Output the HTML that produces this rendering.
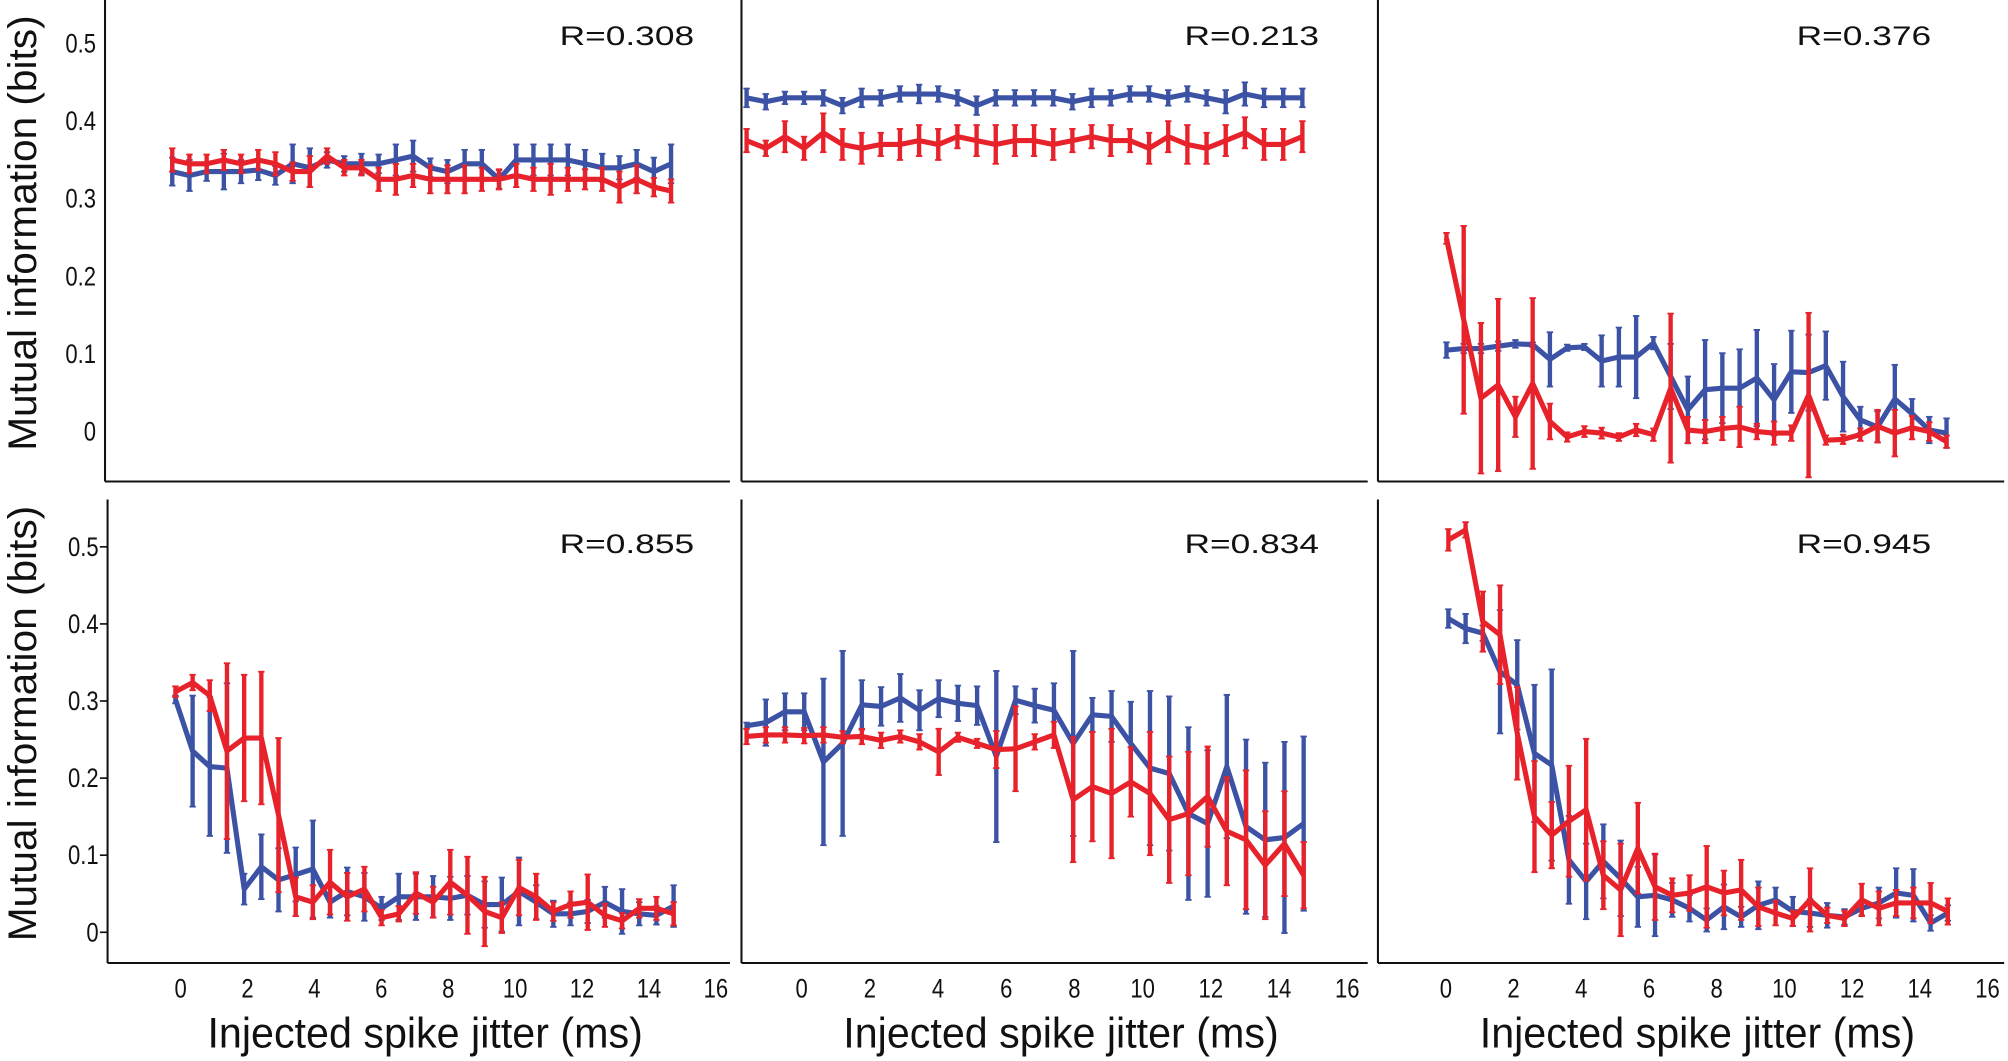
<!DOCTYPE html>
<html><head><meta charset="utf-8"><style>
html,body{margin:0;padding:0;background:#fff;}
svg{display:block;}
text{font-family:"Liberation Sans",sans-serif;fill:#111;}
</style></head>
<body>
<svg id="fig" width="2008" height="1061" viewBox="0 0 1568 828.5" xmlns="http://www.w3.org/2000/svg"></svg>
<script>
// ---- data (mutual information, bits) ----
const jitterIdx = [0,1,2,3,4,5,6,7,8,9,10,11,12,13,14,15,16,17,18,19,20,21,22,23,24,25,26,27,28,29];
const yTicks = [0,0.1,0.2,0.3,0.4,0.5];
const yTickLabels = ["0","0.1","0.2","0.3","0.4","0.5"];
const xTicks = [0,2,4,6,8,10,12,14,16];
const rLabels = ["R=0.308","R=0.213","R=0.376","R=0.855","R=0.834","R=0.945"];

const blueTL = [.335,.33,.335,.335,.335,.337,.33,.345,.34,.35,.345,.345,.345,.35,.355,.34,.335,.345,.345,.325,.35,.35,.35,.35,.345,.34,.34,.345,.335,.345];
const blueTLerr = [.018,.02,.012,.023,.015,.013,.012,.025,.025,.01,.01,.013,.012,.02,.02,.012,.015,.018,.018,.012,.02,.02,.02,.02,.018,.018,.015,.018,.018,.025];
const redTL = [.35,.345,.345,.35,.345,.35,.345,.335,.335,.355,.34,.34,.325,.325,.33,.325,.325,.325,.325,.325,.33,.325,.325,.325,.325,.325,.315,.325,.315,.31];
const redTLerr = [.015,.012,.012,.013,.012,.013,.015,.012,.02,.01,.01,.01,.015,.02,.015,.018,.018,.018,.015,.013,.015,.015,.02,.015,.013,.015,.02,.018,.012,.015];

const blueTM = [.43,.425,.43,.43,.43,.42,.43,.43,.435,.435,.435,.43,.42,.43,.43,.43,.43,.425,.43,.43,.435,.435,.43,.435,.43,.425,.435,.43,.43,.43];
const blueTMerr = [.012,.01,.008,.008,.01,.01,.012,.01,.01,.012,.01,.01,.012,.01,.01,.01,.01,.01,.012,.01,.01,.01,.01,.01,.01,.015,.015,.012,.012,.012];
const redTM = [.375,.365,.38,.365,.385,.37,.365,.37,.37,.375,.37,.38,.375,.37,.375,.375,.37,.375,.38,.375,.375,.365,.38,.37,.365,.375,.385,.37,.37,.38];
const redTMerr = [.015,.01,.02,.015,.025,.02,.02,.015,.02,.02,.02,.015,.02,.025,.02,.02,.02,.015,.015,.02,.015,.02,.02,.025,.02,.02,.02,.02,.02,.02];

const blueTR = [.105,.107,.107,.110,.113,.112,.093,.108,.109,.091,.096,.096,.114,.071,.028,.054,.056,.056,.069,.041,.077,.076,.085,.045,.015,.006,.042,.023,.002,-.002];
const blueTRerr = [.01,.006,.006,.006,.005,.003,.035,.004,.004,.033,.038,.053,.008,.042,.043,.064,.045,.05,.062,.046,.053,.049,.044,.045,.017,.02,.044,.019,.017,.019];
const redTR = [.249,.144,.043,.060,.019,.062,.013,-.007,0,-.002,-.007,.002,-.004,.056,.002,0,.004,.006,0,-.002,-.002,.047,-.011,-.01,-.004,.007,-.002,.005,0,-.013];
const redTRerr = [.007,.121,.097,.111,.026,.11,.023,.006,.007,.007,.005,.008,.008,.096,.017,.015,.015,.026,.01,.015,.01,.106,.006,.006,.008,.021,.03,.015,.012,.008];

const blueBL = [.302,.235,.215,.213,.056,.085,.068,.075,.082,.039,.053,.046,.031,.046,.046,.046,.044,.048,.036,.036,.053,.039,.024,.024,.027,.039,.027,.024,.022,.034];
const blueBLerr = [.005,.072,.09,.11,.02,.042,.041,.035,.063,.02,.031,.031,.015,.03,.03,.027,.028,.025,.03,.035,.044,.022,.017,.015,.015,.02,.029,.015,.012,.027];
const redBL = [.312,.324,.307,.235,.252,.252,.152,.046,.039,.065,.046,.056,.019,.024,.051,.039,.065,.048,.027,.019,.058,.046,.027,.036,.039,.022,.015,.031,.031,.024];
const redBLerr = [.007,.01,.02,.114,.082,.086,.1,.025,.022,.042,.031,.029,.01,.01,.027,.02,.042,.05,.045,.02,.036,.03,.012,.017,.036,.015,.01,.012,.015,.015];

const blueBM = [.268,.272,.286,.286,.221,.245,.295,.293,.304,.288,.303,.297,.294,.228,.301,.294,.288,.245,.282,.280,.245,.213,.206,.154,.141,.215,.137,.120,.123,.141];
const blueBMerr = [.004,.03,.024,.024,.108,.12,.032,.025,.031,.026,.024,.023,.025,.111,.018,.022,.035,.12,.022,.033,.054,.1,.1,.112,.095,.093,.113,.1,.124,.113];
const redBM = [.254,.256,.256,.255,.256,.253,.254,.249,.254,.247,.234,.253,.245,.237,.238,.247,.256,.172,.189,.18,.195,.18,.146,.154,.176,.131,.12,.087,.115,.074];
const redBMerr = [.01,.01,.01,.01,.01,.008,.01,.01,.008,.01,.03,.006,.006,.024,.055,.01,.017,.081,.071,.084,.045,.08,.082,.08,.065,.07,.09,.07,.068,.043];

const blueBR = [.407,.394,.388,.338,.321,.232,.217,.094,.066,.092,.07,.046,.048,.042,.031,.016,.033,.02,.035,.042,.027,.025,.022,.02,.031,.038,.051,.048,.012,.025];
const blueBRerr = [.012,.019,.01,.08,.058,.089,.124,.057,.049,.048,.049,.039,.053,.022,.017,.015,.029,.013,.031,.016,.019,.018,.016,.01,.009,.02,.032,.034,.01,.01];
const redBR = [.509,.522,.403,.386,.258,.15,.126,.144,.159,.074,.055,.109,.059,.048,.051,.059,.051,.055,.033,.025,.018,.042,.022,.018,.042,.031,.038,.038,.038,.027];
const redBRerr = [.014,.01,.039,.064,.06,.072,.043,.072,.092,.044,.06,.059,.043,.022,.023,.053,.029,.039,.025,.016,.01,.041,.01,.01,.021,.022,.017,.02,.026,.017];

// ---- layout ----
const NS = "http://www.w3.org/2000/svg";
const svg = document.getElementById('fig');
const BLUE = "#3c52a4", RED = "#e8222b";
function mk(tag, attrs, parent){ const e=document.createElementNS(NS,tag); for(const k in attrs) e.setAttribute(k,attrs[k]); (parent||svg).appendChild(e); return e; }

const panels = [
  {name:"top-left", left:82, right:570, top:0, bottom:376, y0:337, ky:606, dx0:134.5, dx1:524, tx0:141, tx1:559, r:0, b:blueTL, be:blueTLerr, rd:redTL, re:redTLerr, rx:542, ry:35, ticks:false, xlab:false},
  {name:"top-middle", left:579, right:1068, top:0, bottom:376, y0:337, ky:606, dx0:583, dx1:1017, tx0:626, tx1:1052, r:1, b:blueTM, be:blueTMerr, rd:redTM, re:redTMerr, rx:1030, ry:35, ticks:false, xlab:false},
  {name:"top-right", left:1076, right:1565, top:0, bottom:376, y0:337, ky:606, dx0:1129.5, dx1:1520, tx0:1129, tx1:1552, r:2, b:blueTR, be:blueTRerr, rd:redTR, re:redTRerr, rx:1508, ry:35, ticks:false, xlab:false},
  {name:"bottom-left", left:84, right:570, top:390, bottom:752, y0:728, ky:602, dx0:137, dx1:526, tx0:141, tx1:559, r:3, b:blueBL, be:blueBLerr, rd:redBL, re:redBLerr, rx:542, ry:432, ticks:true, xlab:true},
  {name:"bottom-middle", left:579, right:1068, top:390, bottom:752, y0:728, ky:602, dx0:583, dx1:1018, tx0:626, tx1:1052, r:4, b:blueBM, be:blueBMerr, rd:redBM, re:redBMerr, rx:1030, ry:432, ticks:false, xlab:true},
  {name:"bottom-right", left:1076, right:1565, top:390, bottom:752, y0:728, ky:602, dx0:1131, dx1:1521, tx0:1129, tx1:1552, r:5, b:blueBR, be:blueBRerr, rd:redBR, re:redBRerr, rx:1508, ry:432, ticks:false, xlab:true}
];

panels.forEach(p=>{
  const g = mk('g',{});
  
  
  const yScale = v => p.y0 - v*p.ky;
  const xScale = j => p.dx0 + j*(p.dx1-p.dx0)/(jitterIdx.length-1);
  const tickX = t => p.tx0 + t*(p.tx1-p.tx0)/16;
  const ya = mk('line',{x1:p.left,y1:p.top,x2:p.left,y2:p.bottom,stroke:"#111","stroke-width":1.6},g);
  
  
  const xa = mk('line',{x1:p.left,y1:p.bottom,x2:p.right,y2:p.bottom,stroke:"#111","stroke-width":1.6},g);
  
  
  if(p.left < 100){
    yTicks.forEach((t,i)=>{
      const y = yScale(t);
      if(p.ticks){ mk('line',{x1:p.left-6,y1:y,x2:p.left,y2:y,stroke:"#111","stroke-width":1.3},g); }
      const tx = mk('text',{x:0,y:0,"font-size":21,"text-anchor":"end",transform:`translate(${p.left-7},${y+7}) scale(0.82,1)`},g);
      tx.textContent = yTickLabels[i];
      
      
    });
    const yt = mk('text',{x:0,y:0,"font-size":31,"text-anchor":"middle",textLength:340,lengthAdjust:"spacingAndGlyphs",transform:`translate(28,${(p.top+p.bottom)/2-6}) rotate(-90)`},g);
    yt.textContent = "Mutual information (bits)";
    
    
  }
  if(p.xlab){
    xTicks.forEach(t=>{
      const tx = mk('text',{x:0,y:0,"font-size":21,"text-anchor":"middle",transform:`translate(${tickX(t)},779) scale(0.82,1)`},g);
      tx.textContent = String(t);
      
      
    });
    const xt = mk('text',{x:(p.left+p.right)/2+5,y:818,"font-size":33,"text-anchor":"middle",textLength:340,lengthAdjust:"spacingAndGlyphs"},g);
    xt.textContent = "Injected spike jitter (ms)";
    
    
  }
  const rt = mk('text',{x:p.rx-105,y:p.ry,"font-size":21,textLength:105,lengthAdjust:"spacingAndGlyphs"},g);
  rt.textContent = rLabels[p.r];
  
  
  [[p.b,p.be,BLUE,'blue'],[p.rd,p.re,RED,'red']].forEach(([vals,errs,col,nm])=>{
    const sg = mk('g',{},g);
    
    
    vals.forEach((v,i)=>{
      const x = xScale(jitterIdx[i]);
      const yl = yScale(v-errs[i]), yh = yScale(v+errs[i]);
      const eb = mk('line',{x1:x,y1:yl,x2:x,y2:yh,stroke:col,"stroke-width":3.4},sg);
      
      
      mk('line',{x1:x-2.5,y1:yl,x2:x+2.5,y2:yl,stroke:col,"stroke-width":1.4},sg);
      mk('line',{x1:x-2.5,y1:yh,x2:x+2.5,y2:yh,stroke:col,"stroke-width":1.4},sg);
    });
    const pts = vals.map((v,i)=>xScale(jitterIdx[i]).toFixed(1)+","+yScale(v).toFixed(1)).join(" ");
    const pl = mk('polyline',{points:pts,fill:"none",stroke:col,"stroke-width":4,"stroke-linejoin":"round"},sg);
    
    
  });
});
</script>
</body></html>
